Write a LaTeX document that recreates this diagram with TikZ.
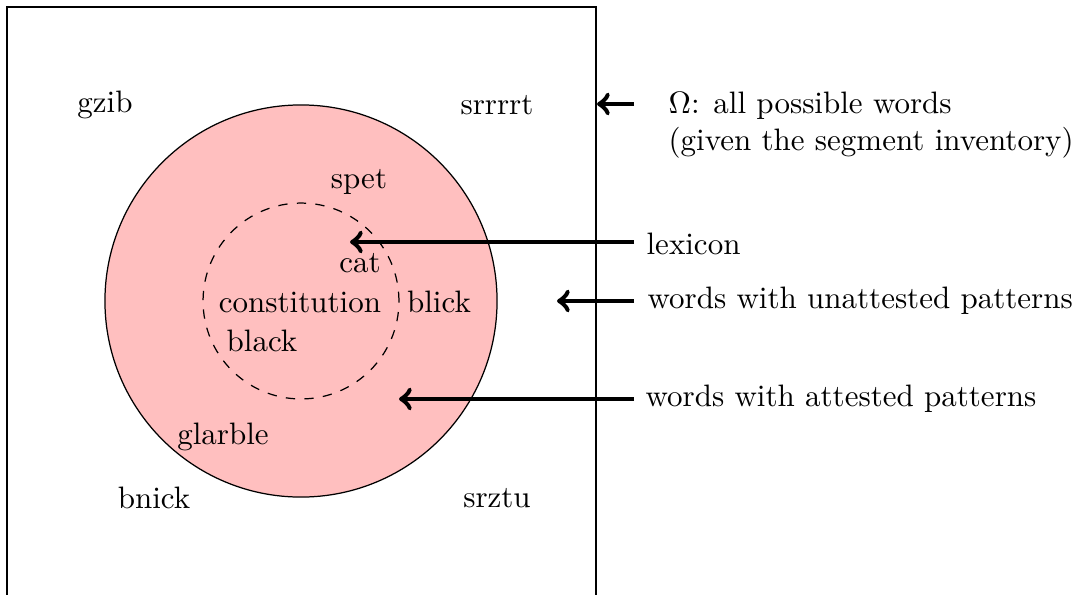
\documentclass[tikz,border=0pt]{standalone}
\begin{document}
\begin{tikzpicture}[x=0.3226pt,y=-0.3226pt,
  word/.style={inner sep=0pt},
  note/.style={anchor=west,inner sep=0pt,align=left},
  pointer/.style={->,line width=1.6pt}]
\useasboundingbox (0,0) rectangle (1081,594);
% universe of possible words
\begin{scope}
\clip (0,0) rectangle (1081,594);
\draw[line width=0.35pt] (7,7) rectangle (596,600);
\end{scope}
% attested patterns and lexicon
\node[circle,draw,fill=red!25,minimum size=126.5pt,inner sep=0pt] (attested) at (301,301) {};
\node[circle,draw,dashed,minimum size=63.2pt,inner sep=0pt] (lex) at (301,301) {};
% example words
\node[word] (gzib) at (105,105) {gzib};
\node[word] (srrrrt) at (497,105) {srrrrt};
\node[word] (spet) at (359,182) {spet};
\node[word] (cat) at (360,263) {cat};
\node[word] (constitution) at (300,302) {constitution};
\node[word] (blick) at (439,302) {blick};
\node[word] (black) at (262,341) {black};
\node[word] (glarble) at (223,437) {glarble};
\node[word] (bnick) at (154,498) {bnick};
\node[word] (srztu) at (497,498) {srztu};
% legend
\node[note,anchor=north west] (omega) at (668,91) {$\Omega$: all possible words\\(given the segment inventory)};
\node[note] (lexicon) at (646,244) {lexicon};
\node[note] (unatt) at (647,301) {words with unattested patterns};
\node[note] (att) at (645,399) {words with attested patterns};
% arrow endpoints
\coordinate (omegaS) at (634,104);
\coordinate (omegaE) at (597,104);
\coordinate (lexS) at (634,242);
\coordinate (lexE) at (350,242);
\coordinate (unattS) at (634,301);
\coordinate (unattE) at (557,301);
\coordinate (attS) at (634,399);
\coordinate (attE) at (399,399);
\draw[pointer] (omegaS) -- (omegaE);
\draw[pointer] (lexS) -- (lexE);
\draw[pointer] (unattS) -- (unattE);
\draw[pointer] (attS) -- (attE);
\end{tikzpicture}
\end{document}
